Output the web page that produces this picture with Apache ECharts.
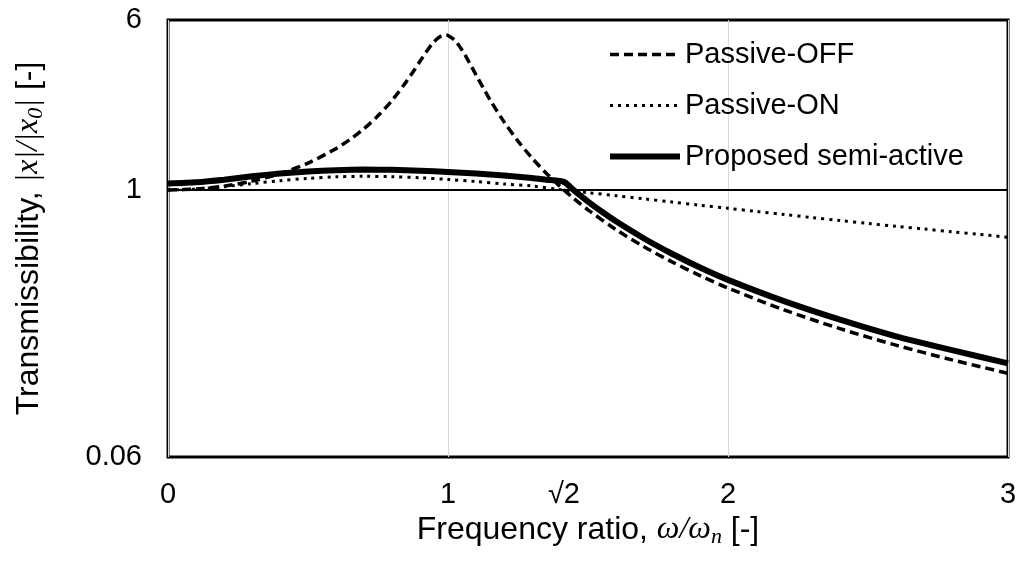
<!DOCTYPE html>
<html>
<head>
<meta charset="utf-8">
<script src="https://cdn.jsdelivr.net/npm/echarts@6/dist/echarts.min.js"></script>
<style>
  html, body { margin: 0; padding: 0; background: #fff; }
  #chart { width: 1021px; height: 562px; }
</style>
</head>
<body>
<div id="chart"></div>
<script>
// Transmissibility |x|/|x0| against frequency ratio ω/ωn
const offRatio = [0, 0.1, 0.2, 0.3, 0.4, 0.5, 0.6, 0.65, 0.7, 0.75, 0.8, 0.85, 0.875, 0.9, 0.925, 0.95, 0.975, 0.99, 1.0,
  1.025, 1.05, 1.075, 1.1, 1.125, 1.15, 1.2, 1.25, 1.3, 1.35, 1.4, 1.45, 1.5, 1.6, 1.7, 1.8, 1.9, 2.0, 2.2, 2.4, 2.6, 2.8, 3.0];
const offValues = [1.0, 1.010, 1.042, 1.099, 1.189, 1.328, 1.547, 1.704, 1.909, 2.186, 2.571, 3.117, 3.471, 3.882, 4.334, 4.766, 5.065, 5.123, 5.099,
  4.834, 4.373, 3.854, 3.367, 2.945, 2.590, 2.052, 1.675, 1.401, 1.197, 1.039, 0.913, 0.812, 0.659, 0.550, 0.469, 0.406, 0.356, 0.283, 0.232, 0.195, 0.167, 0.145];

const onRatio = [0, 0.1, 0.2, 0.3, 0.4, 0.5, 0.6, 0.7, 0.8, 0.9, 1.0, 1.1, 1.2, 1.3, 1.4, 1.5, 1.6, 1.7, 1.8, 1.9, 2.0,
  2.1, 2.2, 2.3, 2.4, 2.5, 2.6, 2.7, 2.8, 2.9, 3.0];
const onValues = [1.0, 1.010, 1.036, 1.070, 1.104, 1.131, 1.149, 1.155, 1.151, 1.138, 1.118, 1.094, 1.066, 1.043, 1.005, 0.973, 0.942, 0.911, 0.881, 0.852, 0.825,
  0.798, 0.773, 0.748, 0.725, 0.703, 0.682, 0.663, 0.644, 0.626, 0.608];

const semiRatio = [0, 0.1, 0.2, 0.3, 0.4, 0.5, 0.6, 0.7, 0.8, 0.9, 1.0, 1.1, 1.2, 1.3, 1.35, 1.414,
  1.45, 1.5, 1.55, 1.6, 1.7, 1.8, 1.9, 2.0, 2.2, 2.4, 2.6, 2.8, 3.0];
const semiValues = [1.071, 1.085, 1.115, 1.155, 1.190, 1.215, 1.232, 1.240, 1.238, 1.226, 1.210, 1.190, 1.165, 1.135, 1.115, 1.090,
  0.996, 0.885, 0.795, 0.719, 0.600, 0.511, 0.442, 0.388, 0.310, 0.255, 0.214, 0.185, 0.161];

const seriesNames = ['Passive-OFF', 'Passive-ON', 'Proposed semi-active'];
const xTickValues = [0, 1, Math.SQRT2, 2, 3];
const yTickLabels = [0.06, 1, 6];
const unityLevel = 1;

const pairs = (xs, ys) => xs.map((x, i) => [x, ys[i]]);

const sans = 'Liberation Sans';
const serif = 'Liberation Serif';

// line styles shared by each curve and its legend entry
const curveStyles = [
  { color: '#000', width: 3.5, type: [9, 5] },
  { color: '#000', width: 3, type: [3, 5] },
  { color: '#000', width: 6, type: 'solid' }
];

const titleRich = {
  s: { fontFamily: sans, fontSize: 32, color: '#000' },
  m: { fontFamily: serif, fontStyle: 'italic', fontSize: 32, color: '#000' },
  sub: { fontFamily: serif, fontStyle: 'italic', fontSize: 22, color: '#000', padding: [14, 0, 0, 0] }
};

const chart = echarts.init(document.getElementById('chart'));
chart.setOption({
  animation: false,
  backgroundColor: '#fff',
  grid: {
    left: 168, right: 13, top: 20, bottom: 105,
    show: true, borderColor: '#000', borderWidth: 3,
    containLabel: false,
    outerBoundsMode: 'none'
  },
  legend: {
    data: seriesNames.map((name, i) => ({
      name,
      itemStyle: { opacity: 0 },
      lineStyle: Object.assign({}, curveStyles[i])
    })),
    orient: 'vertical',
    left: 607,
    top: 40,
    padding: 0,
    itemWidth: 70,
    itemHeight: 14,
    itemGap: 22,
    textStyle: { fontFamily: sans, fontSize: 29, color: '#000', lineHeight: 29 }
  },
  xAxis: {
    type: 'value',
    min: 0, max: 3, interval: 1,
    axisLine: { show: false },
    axisTick: { show: false },
    splitLine: { show: true, lineStyle: { color: '#d9d9d9', width: 1 } },
    axisLabel: {
      customValues: xTickValues,
      margin: 23,
      fontFamily: sans, fontSize: 29, color: '#000',
      formatter: v => Math.abs(v - Math.SQRT2) < 1e-6 ? '√2' : String(Math.round(v))
    },
    name: '{s|Frequency ratio, }{m|ω/ω}{sub|n}{s| [-]}',
    nameLocation: 'middle',
    nameGap: 55,
    nameTextStyle: { rich: titleRich }
  },
  yAxis: {
    type: 'log',
    logBase: 10,
    min: 0.06, max: 6,
    axisLine: { show: false },
    axisTick: { show: false },
    splitLine: { show: false },
    axisLabel: {
      margin: 26,
      fontFamily: sans, fontSize: 29, color: '#000',
      formatter: v => {
        const hit = yTickLabels.find(t => Math.abs(t - v) / t < 1e-6);
        return hit === undefined ? '' : String(hit);
      }
    },
    name: '{s|Transmissibility, }{m||x|/|x}{sub|0}{m||}{s| [-]}',
    nameLocation: 'middle',
    nameRotate: 90,
    nameGap: 121,
    nameTextStyle: { rich: titleRich }
  },
  series: [
    {
      name: seriesNames[0],
      type: 'line',
      data: pairs(offRatio, offValues),
      symbol: 'none',
      smooth: 0.3,
      lineStyle: curveStyles[0],
      itemStyle: { color: '#000' },
      z: 3
    },
    {
      name: seriesNames[1],
      type: 'line',
      data: pairs(onRatio, onValues),
      symbol: 'none',
      smooth: 0.3,
      lineStyle: curveStyles[1],
      itemStyle: { color: '#000' },
      markLine: {
        silent: true,
        symbol: ['none', 'none'],
        label: { show: false },
        lineStyle: { color: '#000', width: 2, type: 'solid' },
        data: [{ yAxis: unityLevel }]
      },
      z: 2
    },
    {
      name: seriesNames[2],
      type: 'line',
      data: pairs(semiRatio, semiValues),
      symbol: 'none',
      smooth: 0.2,
      lineStyle: curveStyles[2],
      itemStyle: { color: '#000' },
      z: 4
    }
  ]
});
</script>
</body>
</html>
